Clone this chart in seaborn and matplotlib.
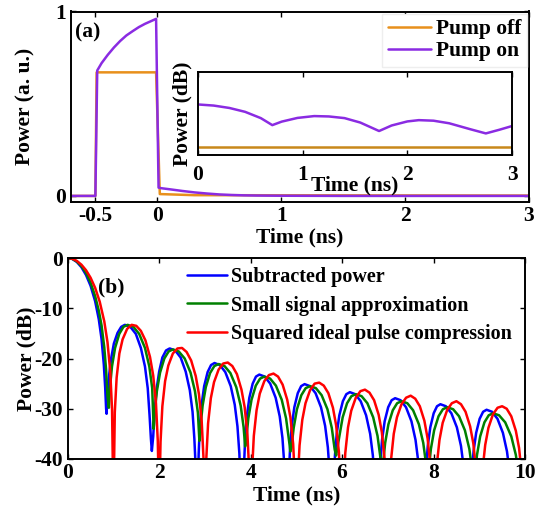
import matplotlib
matplotlib.use("Agg")
import matplotlib.pyplot as plt
import seaborn as sns

# ---- panel (a): pulse power, linear scale ----
t_off = [-0.7, -0.5, -0.49, -0.01, 0.02, 0.3, 3.0]
p_off = [0.0, 0.0, 0.67, 0.67, 0.01, 0.004, 0.002]

t_on = [-0.7, -0.5, -0.485, -0.45, -0.4, -0.35, -0.3, -0.25, -0.2, -0.15, -0.1,
        -0.05, -0.01, 0.01, 0.03, 0.1, 0.2, 0.3, 0.4, 0.5, 0.6, 0.7, 0.8, 1.0,
        1.5, 3.0]
p_on = [0.0, 0.0, 0.68, 0.72, 0.765, 0.805, 0.84, 0.87, 0.893, 0.915, 0.933,
        0.948, 0.96, 0.045, 0.042, 0.036, 0.027, 0.019, 0.013, 0.008, 0.005,
        0.003, 0.002, 0.001, 0.0, 0.0]

# inset (dB)
ti = [0, 0.15, 0.3, 0.45, 0.6, 0.71, 0.8, 0.95, 1.11, 1.25, 1.4, 1.55, 1.73,
      1.85, 2.0, 2.11, 2.25, 2.4, 2.6, 2.75, 2.88, 3.0]
ins_on = [-17.6, -18.2, -19.5, -21.6, -25.0, -28.8, -26.9, -24.9, -23.9, -24.1,
          -25.0, -27.4, -32.0, -29.0, -26.8, -26.1, -26.4, -27.8, -31.0, -33.3,
          -31.3, -29.3]
ti_off = [0, 3.0]
ins_off = [-40.8, -40.8]

# ---- panel (b): compressed pulse, dB ----
red_t = [0, 0.1, 0.2, 0.3, 0.4, 0.5, 0.6, 0.7, 0.8, 0.87, 0.93, 0.97, 1.0,
         1.03, 1.07, 1.13, 1.2, 1.3, 1.4, 1.5, 1.6, 1.7, 1.8, 1.87, 1.93, 1.97, 2.0,
         2.03, 2.07, 2.13, 2.2, 2.3, 2.4, 2.5, 2.6, 2.7, 2.8, 2.87, 2.93, 2.97, 3.0,
         3.03, 3.07, 3.13, 3.2, 3.3, 3.4, 3.5, 3.6, 3.7, 3.8, 3.87, 3.93, 3.97, 4.0,
         4.03, 4.07, 4.13, 4.2, 4.3, 4.4, 4.5, 4.6, 4.7, 4.8, 4.87, 4.93, 4.97, 5.0,
         5.03, 5.07, 5.13, 5.2, 5.3, 5.4, 5.5, 5.6, 5.7, 5.8, 5.87, 5.93, 5.97, 6.0,
         6.03, 6.07, 6.13, 6.2, 6.3, 6.4, 6.5, 6.6, 6.7, 6.8, 6.87, 6.93, 6.97, 7.0,
         7.07, 7.13, 7.2, 7.3, 7.4, 7.5, 7.6, 7.7, 7.8, 7.87, 7.93, 8.0,
         8.07, 8.13, 8.2, 8.3, 8.4, 8.5, 8.6, 8.7, 8.8, 8.87, 8.93, 9.0,
         9.07, 9.13, 9.2, 9.3, 9.4, 9.5, 9.6, 9.7, 9.8, 9.87, 9.93, 10.0]
red_db = [0, -0.14, -0.58, -1.33, -2.42, -3.92, -5.94, -8.69, -12.62, -16.75, -22.54, -30.2, -50,
          -30.7, -23.8, -19.0, -16.2, -14.1, -13.3, -13.5, -14.5, -16.4, -19.7, -23.4, -28.9, -36.4, -50,
          -36.6, -29.5, -24.5, -21.4, -19.0, -18.0, -17.9, -18.7, -20.4, -23.5, -27.1, -32.5, -39.9, -50,
          -40.1, -32.9, -27.9, -24.7, -22.2, -21.0, -20.8, -21.5, -23.1, -26.2, -29.7, -35.1, -42.5, -50,
          -42.6, -35.4, -30.3, -27.0, -24.5, -23.3, -23.0, -23.6, -25.2, -28.2, -31.7, -37.0, -44.4, -50,
          -44.5, -37.3, -32.2, -28.9, -26.3, -25.0, -24.8, -25.4, -26.9, -29.8, -33.3, -38.6, -46.0, -50,
          -46.1, -38.8, -33.7, -30.4, -27.8, -26.5, -26.2, -26.8, -28.3, -31.2, -34.7, -40.0, -47.3, -50,
          -40.2, -35.0, -31.7, -29.1, -27.8, -27.4, -28.0, -29.5, -32.4, -35.9, -41.2, -50,
          -41.3, -36.2, -32.8, -30.2, -28.9, -28.5, -29.1, -30.6, -33.5, -36.9, -42.2, -50,
          -42.3, -37.2, -33.8, -31.1, -29.8, -29.5, -30.0, -31.5, -34.4, -37.8, -43.1, -50]

blue_t = [0, 0.1, 0.2, 0.3, 0.4, 0.5, 0.6, 0.68, 0.74, 0.79, 0.82, 0.84, 0.85,
          0.87, 0.91, 0.95, 1.01, 1.09, 1.17, 1.25, 1.37, 1.49, 1.6, 1.69, 1.75, 1.79, 1.82, 1.84,
          1.87, 1.9, 1.94, 2.0, 2.07, 2.15, 2.23, 2.35, 2.47, 2.58, 2.67, 2.73, 2.77, 2.8, 2.82,
          2.85, 2.864, 2.89, 2.928, 2.984, 3.06, 3.135, 3.21, 3.328, 3.446, 3.565, 3.653, 3.712, 3.754, 3.777,
          3.841, 3.856, 3.881, 3.918, 3.972, 4.045, 4.117, 4.19, 4.309, 4.428, 4.547, 4.636, 4.696, 4.737, 4.761,
          4.822, 4.837, 4.863, 4.9, 4.956, 5.031, 5.105, 5.18, 5.3, 5.42, 5.539, 5.629, 5.689, 5.731,
          5.818, 5.844, 5.883, 5.94, 6.017, 6.093, 6.17, 6.288, 6.407, 6.525, 6.614, 6.673, 6.715,
          6.809, 6.836, 6.874, 6.931, 7.008, 7.084, 7.16, 7.279, 7.398, 7.517, 7.606, 7.666, 7.707,
          7.811, 7.837, 7.874, 7.929, 8.003, 8.076, 8.15, 8.27, 8.39, 8.51, 8.6, 8.66, 8.702,
          8.81, 8.837, 8.875, 8.932, 9.008, 9.084, 9.16, 9.279, 9.398, 9.517, 9.606, 9.666, 9.707]
blue_db = [0, -0.19, -0.79, -1.83, -3.37, -5.52, -8.6, -12.2, -16.1, -21.2, -25.8, -30.0, -31.0,
           -27.5, -23.0, -20.0, -17.0, -14.9, -13.7, -13.3, -13.7, -15.1, -17.9, -21.6, -25.9, -31.3, -36.0, -38.4,
           -35.5, -30.6, -26.3, -22.6, -19.8, -18.4, -18.0, -18.4, -19.8, -22.6, -26.3, -30.6, -36.0, -42.0, -50,
           -44.9, -38.9, -33.5, -29.2, -25.5, -22.7, -21.3, -20.9, -21.3, -22.7, -25.5, -29.2, -33.5, -38.9, -44.9,
           -47.2, -41.2, -35.8, -31.5, -27.8, -25.0, -23.6, -23.2, -23.6, -25.0, -27.8, -31.5, -35.8, -41.2, -47.2,
           -49.1, -43.1, -37.7, -33.4, -29.7, -26.9, -25.5, -25.1, -25.5, -26.9, -29.7, -33.4, -37.7, -43.1,
           -44.7, -39.3, -35.0, -31.3, -28.5, -27.1, -26.7, -27.1, -28.5, -31.3, -35.0, -39.3, -44.7,
           -45.9, -40.5, -36.2, -32.5, -29.7, -28.3, -27.9, -28.3, -29.7, -32.5, -36.2, -40.5, -45.9,
           -47.1, -41.7, -37.4, -33.7, -30.9, -29.5, -29.1, -29.5, -30.9, -33.7, -37.4, -41.7, -47.1,
           -48.2, -42.8, -38.5, -34.8, -32.0, -30.6, -30.2, -30.6, -32.0, -34.8, -38.5, -42.8, -48.2]

green_t = [0, 0.1, 0.2, 0.3, 0.4, 0.5, 0.6, 0.68, 0.74, 0.8, 0.84, 0.87, 0.9,
           0.923, 0.968, 1.036, 1.128, 1.219, 1.31, 1.437, 1.563, 1.69, 1.785, 1.848, 1.88,
           1.903, 1.95, 2.02, 2.113, 2.207, 2.3, 2.429, 2.558, 2.686, 2.783, 2.847, 2.88,
           2.903, 2.95, 3.02, 3.113, 3.207, 3.3, 3.429, 3.558, 3.686, 3.783, 3.847, 3.88,
           3.903, 3.95, 4.02, 4.113, 4.207, 4.3, 4.427, 4.553, 4.68, 4.775, 4.838, 4.87,
           4.894, 4.942, 5.013, 5.109, 5.204, 5.3, 5.427, 5.553, 5.68, 5.775, 5.838, 5.87,
           5.942, 6.013, 6.109, 6.204, 6.3, 6.427, 6.553, 6.68, 6.775, 6.838, 6.87,
           6.894, 6.942, 7.013, 7.109, 7.204, 7.3, 7.427, 7.553, 7.68, 7.775, 7.838, 7.87,
           7.894, 7.942, 8.013, 8.109, 8.204, 8.3, 8.429, 8.558, 8.686, 8.783, 8.847, 8.88,
           8.903, 8.95, 9.02, 9.113, 9.207, 9.3, 9.433, 9.567, 9.7, 9.8, 9.867]
green_db = [0, -0.17, -0.70, -1.6, -2.95, -4.9, -7.6, -10.5, -13.4, -17.8, -22.3, -27.5, -29.8,
            -25.9, -21.6, -17.9, -15.1, -13.7, -13.3, -13.7, -15.1, -17.9, -21.6, -25.9, -34.0,
            -30.8, -26.5, -22.8, -20.0, -18.6, -18.2, -18.6, -20.0, -22.8, -26.5, -30.8, -36.4,
            -33.7, -29.4, -25.7, -22.9, -21.5, -21.1, -21.5, -22.9, -25.7, -29.4, -33.7, -37.5,
            -36.2, -31.9, -28.2, -25.4, -24.0, -23.6, -24.0, -25.4, -28.2, -31.9, -36.2, -38.5,
            -37.6, -33.8, -30.1, -27.3, -25.9, -25.5, -25.9, -27.3, -30.1, -33.8, -38.1, -39.3,
            -35.4, -31.7, -28.9, -27.5, -27.1, -27.5, -28.9, -31.7, -35.4, -39.7, -42.0,
            -41.1, -36.8, -33.1, -30.3, -28.9, -28.5, -28.9, -30.3, -33.1, -36.8, -41.1, -46.0,
            -42.3, -38.0, -34.3, -31.5, -30.1, -29.7, -30.1, -31.5, -34.3, -38.0, -42.3, -50,
            -43.5, -39.2, -35.5, -32.7, -31.3, -30.9, -31.3, -32.7, -35.5, -39.2, -43.5]

ORANGE = "#e8901c"
PURPLE = "#8a2be2"

sns.set_style("ticks")
plt.rcParams.update({
    "font.family": ["Liberation Serif", "DejaVu Serif"],
    "font.weight": "bold",
    "axes.labelweight": "bold",
    "font.size": 15.5,
    "axes.unicode_minus": False,
    "axes.edgecolor": "black",
    "axes.linewidth": 1.4,
    "text.color": "black",
    "axes.labelcolor": "black",
    "xtick.color": "black",
    "ytick.color": "black",
    "xtick.direction": "in",
    "ytick.direction": "in",
    "xtick.top": True,
    "ytick.right": True,
    "xtick.major.size": 3.5,
    "ytick.major.size": 3.5,
    "xtick.major.width": 1.0,
    "ytick.major.width": 1.0,
    "xtick.labelsize": 15.5,
    "ytick.labelsize": 15.5,
})

W, H = 535, 508
fig = plt.figure(figsize=(W / 100, H / 100), dpi=100)

def box(l, t, r, b):
    return [l / W, 1 - b / H, (r - l) / W, (b - t) / H]

lw = 1.8

# ---------- (a) ----------
ax_a = fig.add_axes(box(70.6, 11.5, 529, 202))
sns.lineplot(x=t_off, y=p_off, ax=ax_a, color=ORANGE, lw=lw, sort=False,
             estimator=None, label="Pump off")
sns.lineplot(x=t_on, y=p_on, ax=ax_a, color=PURPLE, lw=lw, sort=False,
             estimator=None, label="Pump on")
ax_a.set_xlim(-0.7, 3)
ax_a.set_ylim(-0.033, 1.0)
ax_a.set_xticks([-0.5, 0, 1, 2, 3])
ax_a.set_xticklabels(["-0.5", "0", "1", "2", "3"])
ax_a.set_yticks([0, 1])
ax_a.tick_params(axis="x", pad=3)
ax_a.set_xlabel("Time (ns)", labelpad=1)
ax_a.set_ylabel("Power (a. u.)", labelpad=14)
ax_a.text(0.01, 0.89, "(a)", transform=ax_a.transAxes, ha="left", va="center")
leg = ax_a.legend(loc="upper right", bbox_to_anchor=(1, 1), borderaxespad=0.1,
                  frameon=True, fancybox=False, framealpha=1, edgecolor="#eeeeee",
                  handlelength=2.0, handletextpad=0.25, labelspacing=0.1,
                  borderpad=0.25)

# inset
ax_i = fig.add_axes(box(198, 72, 512, 155))
sns.lineplot(x=ti_off, y=ins_off, ax=ax_i, color="#c8881a", lw=lw, sort=False,
             estimator=None, legend=False)
sns.lineplot(x=ti, y=ins_on, ax=ax_i, color=PURPLE, lw=lw, sort=False,
             estimator=None, legend=False)
ax_i.set_xlim(0, 3)
ax_i.set_ylim(-45, 0)
ax_i.set_xticks([0, 1, 2, 3])
ax_i.set_yticks([])
ax_i.tick_params(axis="x", pad=7)
ax_i.set_xlabel("Time (ns)", labelpad=-7)
ax_i.set_ylabel("Power (dB)", labelpad=4)

# ---------- (b) ----------
ax_b = fig.add_axes(box(67.7, 258, 525, 459))
sns.lineplot(x=blue_t, y=blue_db, ax=ax_b, color="#0000ff", lw=lw, sort=False,
             estimator=None, label="Subtracted power")
sns.lineplot(x=green_t, y=green_db, ax=ax_b, color="#008000", lw=lw, sort=False,
             estimator=None, label="Small signal approximation")
sns.lineplot(x=red_t, y=red_db, ax=ax_b, color="#ff0000", lw=lw, sort=False,
             estimator=None, label="Squared ideal pulse compression")
ax_b.set_xlim(0, 10)
ax_b.set_ylim(-40, 0)
ax_b.set_xticks([0, 2, 4, 6, 8, 10])
ax_b.set_yticks([0, -10, -20, -30, -40])
ax_b.tick_params(axis="x", pad=3)
ax_b.set_xlabel("Time (ns)", labelpad=2)
ax_b.set_ylabel("Power (dB)", labelpad=-2)
ax_b.text(0.067, 0.855, "(b)", transform=ax_b.transAxes, ha="left", va="center")
ax_b.legend(loc="upper left", bbox_to_anchor=(0.261, 0.955), borderaxespad=0,
            borderpad=0, frameon=False, handlelength=2.0, handletextpad=0.2,
            labelspacing=0.42, fontsize=14.5)

fig.savefig("out.png", dpi=100)
